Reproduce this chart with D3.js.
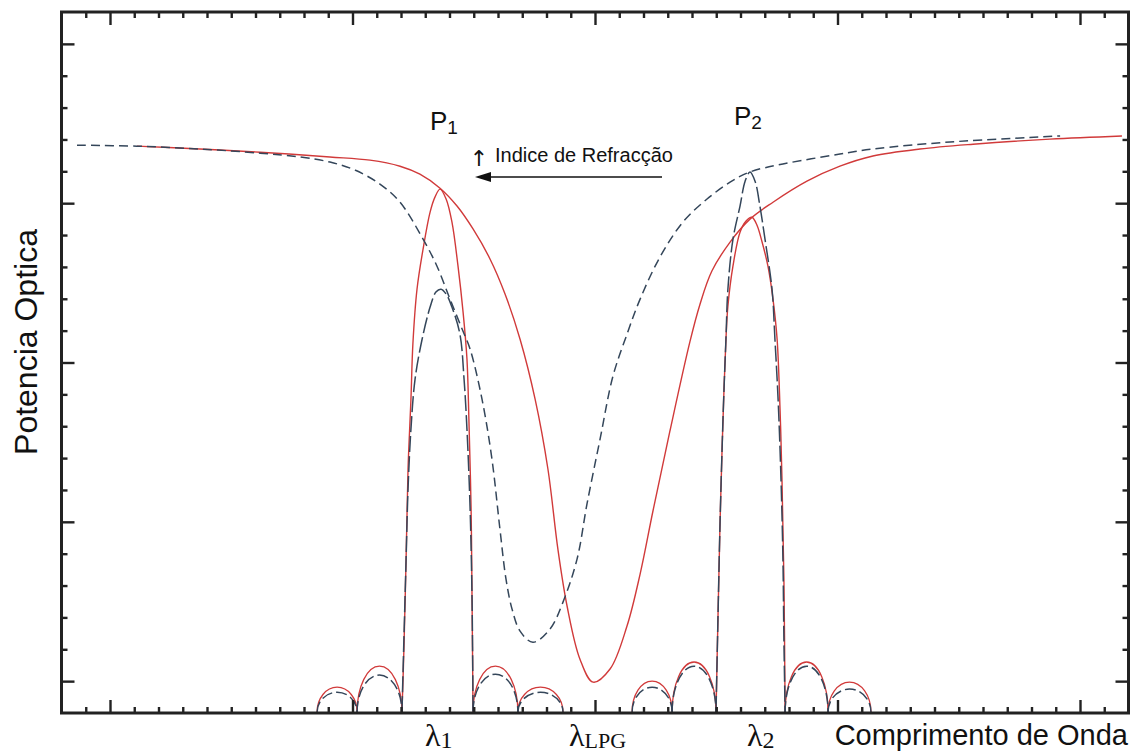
<!DOCTYPE html>
<html lang="pt">
<head>
<meta charset="utf-8" />
<title>Potencia Optica vs Comprimento de Onda</title>
<script src="https://cdn.jsdelivr.net/npm/d3@7/dist/d3.min.js"></script>
<style>
    body { margin: 0; background: #fff; }
    text { font-family: "Liberation Sans", Arial, sans-serif; fill: #111; }
    .lam { font-family: "Liberation Serif", "Times New Roman", serif; }
    .arrow { font-family: "DejaVu Sans", sans-serif; }
</style>
</head>
<body>
<svg width="1141" height="756"></svg>
<script>
// x in minor-tick units (majors every 10), y in minor-tick units (majors every 5)
var xTicks = d3.range(-1, 42);
var yTicks = d3.range(0, 21);

// broad LPG dip, solid red
var redBroad = [[1.11,16.79],[3.71,16.70],[6.19,16.60],[9.07,16.45],[10.72,16.35],[11.96,16.16],[12.78,15.91],
    [13.61,15.47],[14.31,14.91],[14.97,14.19],[15.67,13.25],[16.29,12.15],[16.91,10.73],[17.53,8.85],[18.06,6.65],
    [18.47,4.14],[18.85,2.35],[19.38,0.69],[19.92,-0.03],[20.62,0.38],[21.32,1.73],[21.86,3.36],[22.39,5.34],
    [23.09,7.85],[23.92,10.67],[24.33,11.83],[24.82,12.87],[25.57,13.78],[26.39,14.50],[27.34,15.03],[28.74,15.69],
    [30.10,16.16],[31.46,16.48],[33.40,16.70],[35.59,16.85],[38.76,17.01],[41.73,17.11]];

// broad LPG dip, dashed blue
var blueBroad = [[-1.36,16.82],[1.11,16.79],[3.71,16.70],[6.19,16.57],[7.84,16.45],[9.07,16.29],[10.10,16.04],
    [11.13,15.60],[11.96,15.03],[12.91,13.87],[13.48,13.03],[14.02,11.99],[14.52,11.05],[14.85,10.42],[15.34,8.85],
    [15.75,6.97],[16.08,4.77],[16.33,3.20],[16.58,2.26],[16.91,1.57],[17.44,1.22],[18.14,1.63],[18.68,2.48],
    [19.26,3.83],[19.67,5.56],[20.21,7.60],[20.74,9.57],[21.32,10.89],[21.86,11.99],[22.68,13.31],[23.63,14.41],
    [24.62,15.13],[25.57,15.66],[26.39,15.98],[27.75,16.23],[30.10,16.54],[31.46,16.70],[34.64,16.92],[39.18,17.11]];

// narrow peaks P1 / P2
var redPeak1 = [[12.04,-0.97],[12.12,1.00],[12.21,3.83],[12.29,6.65],[12.41,8.85],[12.49,10.58],[12.66,12.30],
    [12.91,13.56],[13.20,14.72],[13.40,15.19],[13.61,15.44],[13.86,15.13],[14.10,14.41],[14.35,13.03],[14.56,11.58],
    [14.72,10.11],[14.80,8.22],[14.89,5.40],[14.93,2.57],[14.97,-0.97]];
var bluePeak1 = [[12.04,-0.97],[12.12,1.32],[12.21,3.83],[12.29,6.03],[12.41,7.91],[12.58,9.48],[12.87,10.73],
    [13.20,11.74],[13.44,12.21],[13.65,12.30],[13.86,12.15],[14.10,11.74],[14.43,10.89],[14.60,9.48],[14.72,7.91],
    [14.85,5.40],[14.93,2.57],[14.97,-0.97]];
var redPeak2 = [[24.99,-0.97],[25.07,1.95],[25.15,4.77],[25.24,7.28],[25.32,9.17],[25.40,10.73],[25.48,11.77],
    [25.69,13.03],[25.98,14.09],[26.23,14.44],[26.47,14.56],[26.68,14.31],[26.89,13.78],[27.13,13.03],[27.34,11.99],
    [27.51,10.73],[27.63,8.54],[27.71,6.34],[27.79,3.20],[27.84,-0.97]];
var bluePeak2 = [[24.99,-0.97],[25.07,1.95],[25.15,4.77],[25.24,7.28],[25.32,9.17],[25.40,10.73],[25.48,12.30],
    [25.69,13.87],[25.98,14.91],[26.19,15.69],[26.39,15.98],[26.60,15.69],[26.80,14.91],[27.01,13.87],[27.30,12.30],
    [27.42,10.73],[27.55,8.85],[27.67,6.34],[27.75,3.83],[27.79,1.32],[27.84,-0.97]];

// side lobes along the bottom
var lobeStart    = [8.54, 10.19, 14.97, 16.82, 21.53, 23.18, 27.84, 29.61];
var lobeEnd      = [10.19, 12.04, 16.82, 18.68, 23.18, 24.99, 29.61, 31.38];
var lobePeakRed  = [-0.19, 0.47, 0.47, -0.19, 0.00, 0.60, 0.60, -0.03];
var lobePeakBlue = [-0.35, 0.19, 0.22, -0.35, -0.19, 0.47, 0.47, -0.25];
var baseLevel = -0.97;

var red = '#d13a3a', blue = '#34465a';

var svg = d3.select('svg');
var x = d3.scaleLinear().domain([-2, 42]).range([61.5, 1128.5]);
var y = d3.scaleLinear().domain([-1, 21]).range([713, 12]);

svg.append('clipPath').attr('id', 'plot')
    .append('rect').attr('x', 61.5).attr('y', 12).attr('width', 1067).attr('height', 701);

var line = d3.line()
    .x(function(d) { return x(d[0]); })
    .y(function(d) { return y(d[1]); })
    .curve(d3.curveCatmullRom.alpha(0.5));

var g = svg.append('g').attr('clip-path', 'url(#plot)').attr('fill', 'none');

// lobes drawn as half ellipses from start to end, peak height from data
function lobePath(i, peaks) {
    var x0 = x(lobeStart[i]), x1 = x(lobeEnd[i]), yb = y(baseLevel);
    var rx = (x1 - x0) / 2, ry = yb - y(peaks[i]);
    return 'M' + x0 + ',' + yb + ' A' + rx + ',' + ry + ' 0 0 1 ' + x1 + ',' + yb;
}

g.selectAll('.lobeRed').data(lobeStart).enter().append('path')
    .attr('d', function(d, i) { return lobePath(i, lobePeakRed); })
    .attr('stroke', red).attr('stroke-width', 1.3);

[redPeak1, redPeak2, redBroad].forEach(function(s) {
    g.append('path').datum(s).attr('d', line).attr('stroke', red).attr('stroke-width', 1.4);
});

g.selectAll('.lobeBlue').data(lobeStart).enter().append('path')
    .attr('d', function(d, i) { return lobePath(i, lobePeakBlue); })
    .attr('stroke', blue).attr('stroke-width', 1.5).attr('stroke-dasharray', '11,4');

[bluePeak1, bluePeak2].forEach(function(s) {
    g.append('path').datum(s).attr('d', line).attr('stroke', blue)
        .attr('stroke-width', 1.5).attr('stroke-dasharray', '16,4');
});
g.append('path').datum(blueBroad).attr('d', line).attr('stroke', blue)
    .attr('stroke-width', 1.5).attr('stroke-dasharray', '9,5');

// axes on all four sides, ticks pointing inwards
function styleAxis(sel, attr, major, isMajor) {
    sel.select('.domain').remove();
    sel.selectAll('.tick line').attr('stroke', '#222').attr('stroke-width', 2.4)
        .filter(isMajor).attr(attr, major);
}
var xMajor = function(d) { return d % 10 === 0; };
var yMajor = function(d) { return d % 5 === 0; };

svg.append('g').attr('transform', 'translate(0,713)')
    .call(d3.axisBottom(x).tickValues(xTicks).tickSize(-6).tickFormat(''))
    .call(styleAxis, 'y2', -13, xMajor);
svg.append('g').attr('transform', 'translate(0,12)')
    .call(d3.axisTop(x).tickValues(xTicks).tickSize(-6).tickFormat(''))
    .call(styleAxis, 'y2', 13, xMajor);
svg.append('g').attr('transform', 'translate(61.5,0)')
    .call(d3.axisLeft(y).tickValues(yTicks).tickSize(-6).tickFormat(''))
    .call(styleAxis, 'x2', 13, yMajor);
svg.append('g').attr('transform', 'translate(1128.5,0)')
    .call(d3.axisRight(y).tickValues(yTicks).tickSize(-6).tickFormat(''))
    .call(styleAxis, 'x2', -13, yMajor);

svg.append('rect').attr('x', 61.5).attr('y', 12).attr('width', 1067).attr('height', 701)
    .attr('fill', 'none').attr('stroke', '#222').attr('stroke-width', 3);

// axis titles
svg.append('text').attr('transform', 'translate(37,342) rotate(-90)')
    .attr('text-anchor', 'middle').style('font-size', '32px').text('Potencia Optica');
svg.append('text').attr('x', 1128).attr('y', 745).attr('text-anchor', 'end')
    .style('font-size', '29px').text('Comprimento de Onda');

// peak labels
function subLabel(px, py, main, sub, size, subSize, dy, cls) {
    var t = svg.append('text').attr('x', px).attr('y', py).style('font-size', size + 'px');
    if (cls) t.attr('class', cls);
    t.append('tspan').text(main);
    t.append('tspan').attr('dy', dy).style('font-size', subSize + 'px').text(sub);
}
subLabel(430, 130, 'P', '1', 26, 19, 4);
subLabel(734, 125, 'P', '2', 26, 19, 4);
subLabel(425, 746, 'λ', '1', 32, 24, 2, 'lam');
subLabel(569, 746, 'λ', 'LPG', 32, 22, 2, 'lam');
subLabel(747, 746, 'λ', '2', 32, 24, 2, 'lam');

// refractive index annotation
svg.append('text').attr('class', 'arrow').attr('x', 479).attr('y', 166).attr('text-anchor', 'middle')
    .style('font-size', '22px').text('↑');
svg.append('text').attr('x', 495).attr('y', 162).style('font-size', '20px').text('Indice de Refracção');
svg.append('line').attr('x1', 662).attr('x2', 488).attr('y1', 177).attr('y2', 177)
    .attr('stroke', '#111').attr('stroke-width', 1.5);
svg.append('path').attr('d', 'M475,177 L491,172 L491,182 Z').attr('fill', '#111');
</script>
</body>
</html>
